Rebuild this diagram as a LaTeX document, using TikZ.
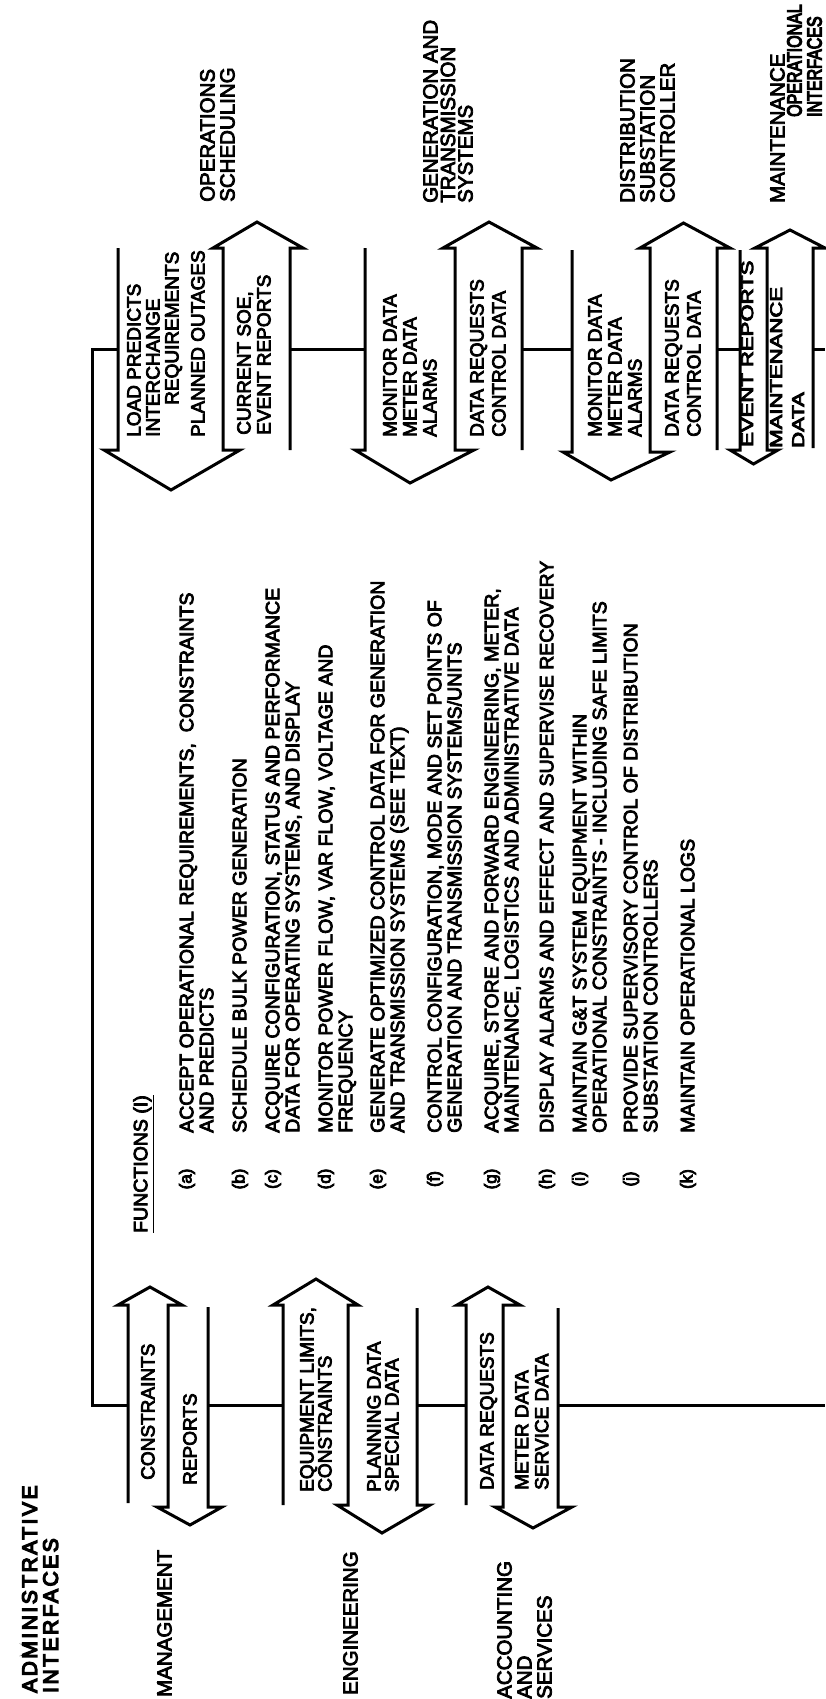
\documentclass[tikz,border=0pt]{standalone}
\usepackage{fontspec}
\setmainfont{Liberation Sans}
\newcommand\thk{\special{pdf:literal direct 2 Tr 0.8 w}}
\newcommand\thkk{\special{pdf:literal direct 2 Tr 1.3 w}}
\begin{document}
\begin{tikzpicture}[x=1pt,y=-1pt,
  ln/.style={line width=3pt, line join=miter, line cap=butt},
  lbl/.style={rotate=90, anchor=north west, inner sep=0pt, align=left, font=\fontsize{19}{20}\selectfont\thk},
  fn/.style={lbl, font=\fontsize{19.5}{20}\selectfont\thk},
  side/.style={lbl, font=\fontsize{20.5}{20.5}\selectfont\thk},
  hdr/.style={lbl, font=\fontsize{21}{21}\selectfont\addfontfeature{LetterSpace=12}\thkk},
  tag/.style={rotate=90, anchor=center, inner sep=0pt, font=\fontsize{17}{17}\selectfont\thk}
]
\useasboundingbox (0,0) rectangle (825,1699);

% ---------- connection points ----------
\coordinate (busT) at (92.5,349);
\coordinate (busB) at (92.5,1405);
\coordinate (o1L) at (118,349);
\coordinate (o1R) at (290,349);
\coordinate (o2L) at (365,349);
\coordinate (o2R) at (522,349);
\coordinate (o3L) at (572,349);
\coordinate (o3R) at (717,349);
\coordinate (o4L) at (740,349);
\coordinate (o4R) at (813,349);
\coordinate (edgeT) at (825,349);
\coordinate (aL) at (128,1405);
\coordinate (aR) at (208,1405);
\coordinate (bL) at (283,1405);
\coordinate (bR) at (417,1405);
\coordinate (cL) at (466,1405);
\coordinate (cR) at (558,1405);
\coordinate (edgeB) at (825,1405);

% ---------- connectors ----------
\draw[ln] (o1L) -- (busT) -- (busB) -- (aL);
\draw[ln] (o1R) -- (o2L);
\draw[ln] (o2R) -- (o3L);
\draw[ln] (o3R) -- (o4L);
\draw[ln] (o4R) -- (edgeT);
\draw[ln] (aR) -- (bL);
\draw[ln] (bR) -- (cL);
\draw[ln] (cR) -- (edgeB);

% ---------- operational double arrows ----------
\draw[ln] (118,248) -- (118,450) -- (104,450) -- (171,490) -- (240,450) -- (223,450) -- (223,248) -- (213,248) -- (257,222) -- (303,248) -- (290,248) -- (290,450);
\draw[ln] (365,248) -- (365,450) -- (355,450) -- (410,483) -- (474,450) -- (455,450) -- (455,248) -- (443,248) -- (489,222) -- (537,248) -- (522,248) -- (522,450);
\draw[ln] (572,250) -- (572,452) -- (563,452) -- (611,480) -- (670,452) -- (650,452) -- (650,248) -- (640,248) -- (683.5,223) -- (730,248) -- (717,248) -- (717,450);
\draw[ln] (740,250) -- (740,450) -- (730,450) -- (753.5,464) -- (778,450) -- (767,450) -- (767,248) -- (755,248) -- (790,230) -- (825,248) -- (813,248) -- (813,448);

% ---------- administrative double arrows ----------
\draw[ln] (128,1503) -- (128,1305) -- (118,1305) -- (150,1287) -- (182,1305) -- (168,1305) -- (168,1507) -- (157,1507) -- (190,1525) -- (222,1507) -- (208,1507) -- (208,1307);
\draw[ln] (283,1505) -- (283,1305) -- (273,1305) -- (316,1279) -- (358,1305) -- (348,1305) -- (348,1505) -- (337,1505) -- (382,1533) -- (430,1505) -- (417,1505) -- (417,1308);
\draw[ln] (466,1505) -- (466,1305) -- (457,1305) -- (488,1287) -- (520,1305) -- (503,1305) -- (503,1507) -- (495,1507) -- (533,1528) -- (572,1507) -- (558,1507) -- (558,1308);

% ---------- headers and side labels ----------
\node[hdr] (adm) at (22,1693) {ADMINISTRATIVE\\INTERFACES};
\node[lbl, font=\fontsize{20.5}{20}\selectfont\thkk] (opi) at (787,117) {\scalebox{0.78}[1]{OPERATIONAL}\\\scalebox{0.78}[1]{INTERFACES}};
\node[side] (mgmt) at (157,1697) {MANAGEMENT};
\node[side] (eng) at (343,1695) {ENGINEERING};
\node[side, font=\fontsize{20.5}{20}\selectfont\thk] (acc) at (497,1699) {ACCOUNTING\\AND\\SERVICES};
\node[side, font=\fontsize{20.5}{20}\selectfont\thk] (ops) at (200,202) {OPERATIONS\\SCHEDULING};
\node[side, font=\fontsize{20.5}{17.5}\selectfont\thk] (gts) at (423,203) {GENERATION AND\\TRANSMISSION\\SYSTEMS};
\node[side, font=\fontsize{20.5}{20}\selectfont\thk] (dsc) at (620,203) {DISTRIBUTION\\SUBSTATION\\CONTROLLER};
\node[side] (mnt) at (770,203) {MAINTENANCE};

% ---------- arrow labels ----------
\node[lbl] (l1) at (141,1480) {CONSTRAINTS};
\node[lbl] (l2) at (183,1485) {REPORTS};
\node[lbl, font=\fontsize{19}{18}\selectfont\thk] (l3) at (300,1492) {EQUIPMENT LIMITS,\\CONSTRAINTS};
\node[lbl, font=\fontsize{19}{18}\selectfont\thk] (l4) at (367,1492) {PLANNING DATA\\SPECIAL DATA};
\node[lbl] (l5) at (480,1490) {DATA REQUESTS};
\node[lbl] (l6) at (515,1490) {METER DATA\\SERVICE DATA};

\node[lbl, font=\fontsize{19}{19}\selectfont\thk] (r1) at (127,437) {LOAD PREDICTS\\INTERCHANGE\\\hspace*{32pt}REQUIREMENTS\\[7pt]PLANNED OUTAGES};
\node[lbl] (r2) at (237,435) {CURRENT SOE,\\EVENT REPORTS};
\node[lbl] (r3) at (383,437) {MONITOR DATA\\METER DATA\\ALARMS};
\node[lbl, font=\fontsize{19}{22}\selectfont\thk] (r4) at (470,437) {DATA REQUESTS\\CONTROL DATA};
\node[lbl] (r5) at (588,437) {MONITOR DATA\\METER DATA\\ALARMS};
\node[lbl, font=\fontsize{19}{22}\selectfont\thk] (r6) at (665,437) {DATA REQUESTS\\CONTROL DATA};
\node[lbl, font=\fontsize{17}{17}\selectfont\thk] (r7) at (741,447) {\scalebox{1.3}[1]{EVENT REPORTS}};
\node[lbl, font=\fontsize{17}{22}\selectfont\thk] (r8) at (770,448) {\scalebox{1.3}[1]{MAINTENANCE}\\\scalebox{1.3}[1]{DATA}};

% ---------- functions ----------
\node[fn] (fh) at (133,1233) {\underline{FUNCTIONS (I)}};

\node[tag] (ta) at (187,1179) {(a)};
\node[fn] (fa) at (179.5,1133) {ACCEPT OPERATIONAL REQUIREMENTS,\ \ CONSTRAINTS\\AND PREDICTS};
\node[tag] (tb) at (240,1179) {(b)};
\node[fn] (fb) at (232.5,1133) {SCHEDULE BULK POWER GENERATION};
\node[tag] (tc) at (273,1179) {(c)};
\node[fn] (fc) at (265.5,1133) {ACQUIRE CONFIGURATION, STATUS AND PERFORMANCE\\DATA FOR OPERATING SYSTEMS, AND DISPLAY};
\node[tag] (td) at (326,1179) {(d)};
\node[fn] (fd) at (318.5,1133) {MONITOR POWER FLOW, VAR FLOW, VOLTAGE AND\\FREQUENCY};
\node[tag] (te) at (378,1179) {(e)};
\node[fn] (fe) at (370.5,1133) {GENERATE OPTIMIZED CONTROL DATA FOR GENERATION\\AND TRANSMISSION SYSTEMS (SEE TEXT)};
\node[tag] (tf) at (435,1179) {(f)};
\node[fn] (ff) at (427.5,1133) {CONTROL CONFIGURATION, MODE AND SET POINTS OF\\GENERATION AND TRANSMISSION SYSTEMS/UNITS};
\node[tag] (tg) at (492,1179) {(g)};
\node[fn] (fg) at (484.5,1133) {ACQUIRE, STORE AND FORWARD ENGINEERING, METER,\\MAINTENANCE, LOGISTICS AND ADMINISTRATIVE DATA};
\node[tag] (th) at (547,1179) {(h)};
\node[fn] (fhh) at (539.5,1133) {DISPLAY ALARMS AND EFFECT AND SUPERVISE RECOVERY};
\node[tag] (ti) at (580,1179) {(i)};
\node[fn] (fi) at (572.5,1133) {MAINTAIN G\&T SYSTEM EQUIPMENT WITHIN\\OPERATIONAL CONSTRAINTS - INCLUDING SAFE LIMITS};
\node[tag] (tj) at (631,1179) {(j)};
\node[fn] (fj) at (623.5,1133) {PROVIDE SUPERVISORY CONTROL OF DISTRIBUTION\\SUBSTATION CONTROLLERS};
\node[tag] (tk) at (688,1179) {(k)};
\node[fn] (fk) at (680.5,1133) {MAINTAIN OPERATIONAL LOGS};
\end{tikzpicture}
\end{document}
